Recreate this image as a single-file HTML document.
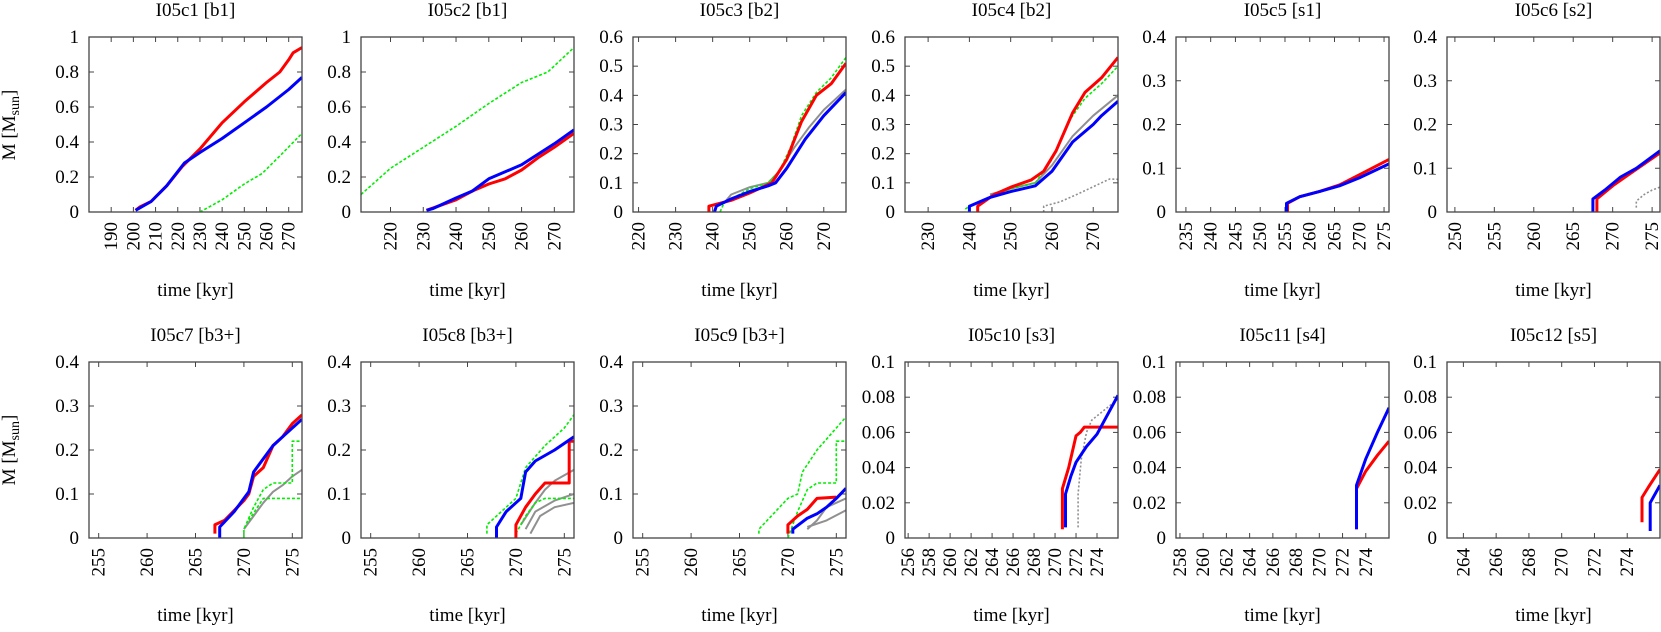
<!DOCTYPE html>
<html><head><meta charset="utf-8"><style>
html,body{margin:0;padding:0;background:#fff;}
svg, svg text{font-family:"Liberation Serif","Times New Roman",serif;fill:#000;}
</style></head><body>
<svg id="s" width="1661" height="627" xmlns="http://www.w3.org/2000/svg" font-family="Liberation Serif, serif"></svg>
<script>
const R='#ff0000',B='#0000ff',G='#00ee00',Y='#909090';
const panels=[
{t:'I05c1 [b1]',L:89,T:37,Bt:212,x:[180,276],y:[0,1],yt:[0,.2,.4,.6,.8,1],xt:[190,200,210,220,230,240,250,260,270],s:[
[G,'d',[[230,0],[240,.07],[250,.16],[258,.22],[266,.32],[276,.45]]],
[R,'r',[[201,.01],[203,.03],[208,.06],[215,.15],[222,.26],[230,.36],[240,.51],[250,.63],[260,.74],[266,.8],[270,.87],[272,.91],[276,.94]]],
[B,'b',[[201,.01],[208,.06],[215,.15],[223,.28],[230,.34],[240,.42],[250,.51],[260,.6],[270,.7],[276,.77]]]]},
{t:'I05c2 [b1]',L:361,T:37,Bt:212,x:[211,276],y:[0,1],yt:[0,.2,.4,.6,.8,1],xt:[220,230,240,250,260,270],s:[
[G,'d',[[211,.1],[220,.25],[230,.37],[240,.49],[250,.62],[260,.74],[268,.8],[276,.94]]],
[R,'r',[[231,.01],[240,.07],[245,.12],[250,.16],[255,.19],[260,.24],[265,.31],[270,.37],[276,.45]]],
[B,'b',[[231,.01],[233,.02],[240,.08],[245,.12],[250,.19],[260,.27],[270,.39],[276,.47]]]]},
{t:'I05c3 [b2]',L:633,T:37,Bt:212,x:[218.5,276],y:[0,.6],yt:[0,.1,.2,.3,.4,.5,.6],xt:[220,230,240,250,260,270],s:[
[Y,'g',[[243,.03],[245,.06],[250,.085],[255,.1],[258,.14],[262,.22],[266,.29],[270,.35],[276,.42]]],
[G,'d',[[242,0],[243,.03],[250,.08],[255,.1],[258,.14],[261,.22],[264,.33],[268,.41],[272,.46],[276,.53]]],
[R,'r',[[239,0],[239,.02],[245,.04],[250,.065],[256,.1],[260,.18],[264,.31],[268,.4],[272,.44],[276,.51]]],
[B,'b',[[240.5,0],[241,.02],[245,.045],[250,.07],[255,.09],[257,.1],[260,.15],[265,.25],[270,.33],[276,.41]]]]},
{t:'I05c4 [b2]',L:905,T:37,Bt:212,x:[224.4,276],y:[0,.6],yt:[0,.1,.2,.3,.4,.5,.6],xt:[230,240,250,260,270],s:[
[Y,'gd',[[258,0],[258,.02],[262,.035],[266,.06],[269,.08],[272,.1],[274,.113],[276,.112]]],
[Y,'g',[[245,.06],[250,.08],[256,.1],[260,.16],[265,.26],[270,.33],[276,.4]]],
[G,'d',[[239,.01],[240,.02],[245,.05],[250,.08],[256,.1],[260,.18],[264,.31],[268,.39],[272,.44],[276,.5]]],
[R,'r',[[242,0],[242,.02],[246,.06],[250,.085],[255,.11],[258,.14],[261,.21],[265,.34],[268,.41],[272,.46],[276,.53]]],
[B,'b',[[240,0],[240,.02],[245,.05],[250,.07],[256,.09],[260,.14],[265,.24],[270,.3],[272,.33],[276,.38]]]]},
{t:'I05c5 [s1]',L:1176,T:37,Bt:212,x:[233,276],y:[0,.4],yt:[0,.1,.2,.3,.4],xt:[235,240,245,250,255,260,265,270,275],s:[
[R,'r',[[255.5,0],[255.5,.02],[258,.035],[262,.047],[266,.062],[270,.085],[276,.12]]],
[B,'b',[[255.3,0],[255.3,.02],[258,.035],[262,.047],[266,.06],[270,.078],[276,.11]]]]},
{t:'I05c6 [s2]',L:1447,T:37,Bt:212,x:[249,276],y:[0,.4],yt:[0,.1,.2,.3,.4],xt:[250,255,260,265,270,275],s:[
[Y,'gd',[[273,.01],[273,.025],[274,.04],[275,.05],[276,.057]]],
[R,'r',[[268,0],[268,.03],[270,.06],[272,.085],[274,.11],[276,.135]]],
[B,'b',[[267.5,0],[267.5,.03],[269,.05],[271,.08],[273,.1],[276,.14]]]]},
{t:'I05c7 [b3+]',L:89,T:362,Bt:538,x:[254,276],y:[0,.4],yt:[0,.1,.2,.3,.4],xt:[255,260,265,270,275],s:[
[Y,'g',[[270,.02],[271,.05],[272,.08],[273,.105],[274,.12],[275,.14],[276,.155]]],
[G,'d',[[270,0],[270,.02],[271,.07],[272,.11],[273,.125],[275,.125],[275,.22],[276,.22]]],
[G,'d',[[270.5,.04],[272,.09],[276,.09]]],
[R,'r',[[267,.01],[267,.03],[268,.04],[270,.085],[270.5,.1],[271,.14],[272,.16],[273,.21],[274,.23],[275,.26],[276,.28]]],
[B,'b',[[267.5,0],[267.5,.025],[269,.06],[270,.09],[270.5,.105],[271,.15],[272,.18],[273,.21],[274,.23],[276,.27]]]]},
{t:'I05c8 [b3+]',L:361,T:362,Bt:538,x:[254,276],y:[0,.4],yt:[0,.1,.2,.3,.4],xt:[255,260,265,270,275],s:[
[Y,'g',[[270.5,.03],[272,.08],[273,.11],[274,.13],[276,.155]]],
[Y,'g',[[271,.02],[272,.06],[274,.085],[276,.1]]],
[Y,'g',[[271.5,.01],[272.5,.05],[274,.07],[276,.08]]],
[G,'d',[[267,.01],[267,.03],[270,.09],[271,.16],[273,.21],[275,.25],[276,.28]]],
[G,'d',[[270,.01],[271,.05],[272,.08],[273,.09],[276,.09]]],
[R,'r',[[270,0],[270,.03],[271,.07],[272,.1],[273,.125],[275.5,.125],[275.5,.22],[276,.22]]],
[B,'b',[[268,0],[268,.025],[269,.06],[270,.08],[270.5,.09],[271,.15],[272,.175],[274,.2],[276,.23]]]]},
{t:'I05c9 [b3+]',L:633,T:362,Bt:538,x:[254,276],y:[0,.4],yt:[0,.1,.2,.3,.4],xt:[255,260,265,270,275],s:[
[Y,'g',[[272,.02],[273,.04],[274,.07],[276,.09]]],
[Y,'g',[[272,.025],[274,.04],[276,.063]]],
[G,'d',[[267,.01],[267,.02],[270,.09],[271,.1],[271.5,.15],[273,.2],[275,.25],[276,.275]]],
[G,'d',[[270,0],[271,.06],[272,.11],[273,.125],[275,.125],[275,.22],[276,.22]]],
[R,'r',[[270,.01],[270,.03],[271,.05],[272,.065],[273,.09],[275,.093]]],
[B,'b',[[270.5,.01],[270.5,.02],[272,.045],[273,.055],[274,.07],[275,.09],[276,.113]]]]},
{t:'I05c10 [s3]',L:905,T:362,Bt:538,x:[255.7,276],y:[0,.1],yt:[0,.02,.04,.06,.08,.1],xt:[256,258,260,262,264,266,268,270,272,274],s:[
[Y,'gd',[[272.2,.006],[272.2,.025],[272.5,.045],[273,.06],[273.5,.067],[276,.079]]],
[R,'r',[[270.7,.005],[270.7,.028],[271.3,.04],[272,.058],[272.4,.06],[272.8,.063],[276,.063]]],
[B,'b',[[271,.006],[271,.025],[271.5,.035],[272,.043],[273,.052],[274,.059],[276,.081]]]]},
{t:'I05c11 [s4]',L:1176,T:362,Bt:538,x:[257.66,276],y:[0,.1],yt:[0,.02,.04,.06,.08,.1],xt:[258,260,262,264,266,268,270,272,274],s:[
[R,'r',[[273.2,.005],[273.2,.028],[274,.038],[275,.047],[276,.055]]],
[B,'b',[[273.2,.005],[273.2,.03],[274,.045],[275,.06],[276,.074]]]]},
{t:'I05c12 [s5]',L:1447,T:362,Bt:538,x:[263,276],y:[0,.1],yt:[0,.02,.04,.06,.08,.1],xt:[264,266,268,270,272,274],s:[
[R,'r',[[274.9,.009],[274.9,.023],[275.3,.029],[276,.039]]],
[B,'b',[[275.4,.004],[275.4,.02],[276,.03]]]]}
];
const W=213;let h='';
const F='font-family="Liberation Serif, serif"';
const sty={r:'stroke-width="3"',b:'stroke-width="3"',d:'stroke-width="1.6" stroke-dasharray="3,2"',g:'stroke-width="2"',gd:'stroke-width="1.6" stroke-dasharray="2,2"'};
for(const p of panels){
 const H=p.Bt-p.T,R2=p.L+W;
 const fx=v=>p.L+(v-p.x[0])/(p.x[1]-p.x[0])*W, fy=v=>p.Bt-(v-p.y[0])/(p.y[1]-p.y[0])*H;
 h+=`<text ${F} x="${p.L+W/2}" y="${p.T-21}" font-size="19" text-anchor="middle">${p.t}</text>`;
 h+=`<text ${F} x="${p.L+W/2}" y="${p.T+259}" font-size="19" text-anchor="middle">time [kyr]</text>`;
 h+=`<defs><clipPath id="c${p.L}_${p.T}"><rect x="${p.L}" y="${p.T}" width="${W}" height="${H}"/></clipPath></defs>`;
 for(const v of p.yt){const y=fy(v);h+=`<line x1="${p.L}" x2="${p.L+5}" y1="${y}" y2="${y}" stroke="#444"/><line x1="${R2}" x2="${R2-5}" y1="${y}" y2="${y}" stroke="#444"/><text ${F} x="${p.L-10}" y="${y+6}" font-size="19" text-anchor="end">${v}</text>`;}
 for(const v of p.xt){const x=fx(v);h+=`<line x1="${x}" x2="${x}" y1="${p.Bt}" y2="${p.Bt-5}" stroke="#444"/><line x1="${x}" x2="${x}" y1="${p.T}" y2="${p.T+5}" stroke="#444"/><text ${F} transform="translate(${x+6},${p.Bt+10}) rotate(-90)" font-size="19" text-anchor="end">${v}</text>`;}
 h+=`<g clip-path="url(#c${p.L}_${p.T})">`;
 for(const [c,k,d] of p.s){h+=`<polyline fill="none" stroke="${c}" ${sty[k]} stroke-linejoin="round" points="${d.map(q=>fx(q[0]).toFixed(1)+','+fy(q[1]).toFixed(1)).join(' ')}"/>`;}
 h+=`</g><rect x="${p.L}" y="${p.T}" width="${W}" height="${H}" fill="none" stroke="#444" stroke-width="1.3"/>`;
}
for(const cy of [125,450]){h+=`<text ${F} transform="translate(15,${cy}) rotate(-90)" font-size="19" text-anchor="middle">M [M<tspan font-size="14" dy="4">sun</tspan><tspan dy="-4">]</tspan></text>`;}
document.getElementById('s').innerHTML=h;
</script>
</body></html>
